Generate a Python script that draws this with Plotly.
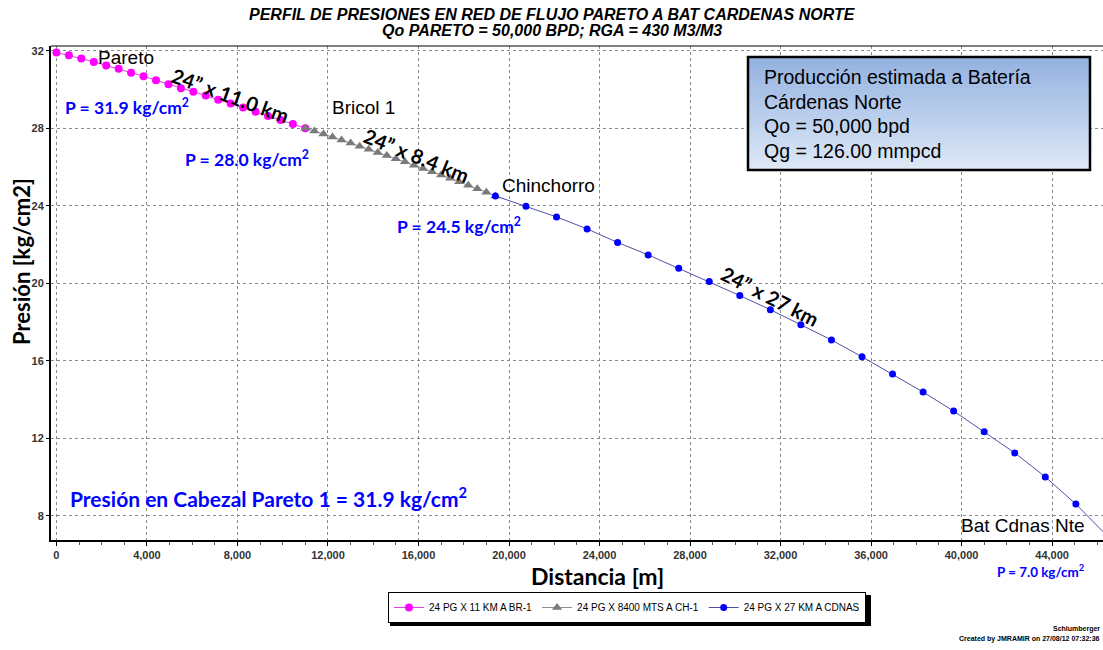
import plotly.graph_objects as go

# ---- pressure profile data (distance in m, pressure in kg/cm2) ----
dist_pareto = [0, 550, 1100, 1650, 2200, 2750, 3300, 3850, 4400, 4950, 5500,
               6050, 6600, 7150, 7700, 8250, 8800, 9350, 9900, 10450, 11000]
pres_pareto = [31.9, 31.76, 31.59, 31.42, 31.24, 31.06, 30.86, 30.68, 30.47, 30.26, 30.06,
               29.88, 29.68, 29.47, 29.27, 29.06, 28.85, 28.63, 28.42, 28.21, 28.0]

dist_bricol = [11000, 11400, 11800, 12200, 12600, 13000, 13400, 13800, 14200, 14600, 15000,
               15400, 15800, 16200, 16600, 17000, 17400, 17800, 18200, 18600, 19000, 19400]
pres_bricol = [28.0, 27.85, 27.70, 27.54, 27.39, 27.23, 27.07, 26.91, 26.75, 26.59, 26.42,
               26.26, 26.09, 25.92, 25.75, 25.58, 25.41, 25.23, 25.05, 24.87, 24.69, 24.5]

dist_chinch = [19400, 20750, 22100, 23450, 24800, 26150, 27500, 28850, 30200, 31550, 32900,
               34250, 35600, 36950, 38300, 39650, 41000, 42350, 43700, 45050, 46400]
pres_chinch = [24.5, 23.97, 23.42, 22.8, 22.1, 21.46, 20.77, 20.08, 19.36, 18.63, 17.86,
               17.07, 16.2, 15.31, 14.38, 13.4, 12.33, 11.24, 10.0, 8.6, 7.0]

series_names = ["24 PG X 11 KM A BR-1", "24 PG X 8400 MTS A CH-1", "24 PG X 27 KM A CDNAS"]

x_ticks = list(range(0, 44001, 4000))
y_ticks = [8, 12, 16, 20, 24, 28, 32]

# ---- plot-area geometry in pixels ----
L, R, T, B = 51, 1103, 46, 540


def px(x):
    return (x - L) / (R - L)


def py(y):
    return (B - y) / (B - T)


fig = go.Figure()
fig.add_trace(go.Scatter(
    x=dist_pareto, y=pres_pareto, mode="lines+markers", name=series_names[0],
    line=dict(color="#E040E0", width=1),
    marker=dict(symbol="circle", size=8, color="#FF00FF")))
fig.add_trace(go.Scatter(
    x=dist_bricol, y=pres_bricol, mode="lines+markers", name=series_names[1],
    line=dict(color="#909090", width=1),
    marker=dict(symbol="triangle-up", size=9, color="#7a7a7a")))
fig.add_trace(go.Scatter(
    x=dist_chinch, y=pres_chinch, mode="lines+markers", name=series_names[2],
    line=dict(color="#5050A8", width=1),
    marker=dict(symbol="circle", size=7, color="#0000FF")))

tick_font = dict(family="Liberation Sans, Arial", size=11, color="#333333", weight="bold")

fig.update_xaxes(
    range=[-240, 46250], tickvals=x_ticks, tickformat=",",
    showgrid=True, gridcolor="#8a8a8a", griddash="dot", gridwidth=1,
    showline=True, linecolor="black", linewidth=2,
    ticks="outside", ticklen=4, tickcolor="black", tickfont=tick_font,
    minor=dict(dtick=1000, tick0=0, ticks="outside", ticklen=3, tickcolor="#555",
               showgrid=False),
    zeroline=False)
fig.update_yaxes(
    range=[6.745, 32.24], tickvals=y_ticks,
    showgrid=True, gridcolor="#8a8a8a", griddash="dot", gridwidth=1,
    showline=True, linecolor="black", linewidth=2,
    ticks="outside", ticklen=3, tickcolor="black", tickfont=tick_font,
    zeroline=False)

shapes = []
# top frame line
shapes.append(dict(type="line", xref="paper", yref="paper", x0=0, x1=1,
                   y0=1, y1=1, line=dict(color="black", width=1)))

# info box with vertical gradient fill
bx0, bx1, by0, by1 = 748, 1090, 57, 170
top_rgb = (147, 177, 224)
bot_rgb = (222, 232, 247)
n_strips = 40
for i in range(n_strips):
    f = i / (n_strips - 1)
    c = tuple(round(top_rgb[k] + (bot_rgb[k] - top_rgb[k]) * f) for k in range(3))
    y0 = by0 + (by1 - by0) * i / n_strips
    y1 = by0 + (by1 - by0) * (i + 1) / n_strips
    shapes.append(dict(type="rect", xref="paper", yref="paper",
                       x0=px(bx0), x1=px(bx1), y0=py(y1 + 0.6), y1=py(y0),
                       fillcolor="rgb(%d,%d,%d)" % c, line=dict(width=0)))
shapes.append(dict(type="rect", xref="paper", yref="paper",
                   x0=px(bx0), x1=px(bx1), y0=py(by1), y1=py(by0),
                   line=dict(color="black", width=2.5)))

# drop shadow behind the legend box
sh_x0, sh_x1, sh_y0, sh_y1 = 390, 871, 595, 626
shapes.append(dict(type="rect", xref="paper", yref="paper",
                   x0=px(sh_x0), x1=px(sh_x1), y0=py(sh_y1), y1=py(sh_y0),
                   fillcolor="black", line=dict(width=0)))

annotations = []


def add_text(text, x, y, size, color="black", family="Liberation Sans, Arial",
             weight="normal", style="normal", angle=0, xanchor="center", align="center"):
    annotations.append(dict(
        text=text, x=px(x), y=py(y), xref="paper", yref="paper",
        xanchor=xanchor, yanchor="middle", showarrow=False, textangle=angle, align=align,
        font=dict(size=size, color=color, family=family, weight=weight, style=style)))


narrow = "Liberation Sans Narrow, Arial Narrow, Liberation Sans"
calibri_like = "Lato, Open Sans, sans-serif"
blue = "#0000FF"

# titles
add_text("PERFIL DE PRESIONES EN RED DE FLUJO PARETO A BAT CARDENAS NORTE", 552, 14, 16,
         family=narrow, weight="bold", style="italic")
add_text("Qo PARETO = 50,000 BPD; RGA = 430 M3/M3", 552, 31, 16,
         family=narrow, weight="bold", style="italic")

# axis titles
add_text("Presión [kg/cm2]", 21, 262, 22, family=calibri_like, weight="bold", angle=-90)
add_text("Distancia [m]", 597, 576, 23, family=calibri_like, weight="bold")

# station names
add_text("Pareto", 96, 57, 19, xanchor="left")
add_text("Bricol 1", 330, 108, 19, xanchor="left")
add_text("Chinchorro", 500, 185, 19, xanchor="left")
add_text("Bat Cdnas Nte", 1087, 525, 19, xanchor="right")

# pipe segment labels
add_text("24” x 11.0 km", 230, 95, 20, family=calibri_like, weight="bold", angle=20)
add_text("24” x 8.4 km", 416, 155, 20, family=calibri_like, weight="bold", angle=22)
add_text("24” x 27 km", 770, 296, 20, family=calibri_like, weight="bold", angle=27)

# pressure labels
add_text("P = 31.9 kg/cm<sup>2</sup>", 63, 106, 17.5, color=blue, family=calibri_like,
         weight="bold", xanchor="left")
add_text("P = 28.0 kg/cm<sup>2</sup>", 183, 158, 17.5, color=blue, family=calibri_like,
         weight="bold", xanchor="left")
add_text("P = 24.5 kg/cm<sup>2</sup>", 395, 225, 17.5, color=blue, family=calibri_like,
         weight="bold", xanchor="left")
add_text("P = 7.0 kg/cm<sup>2</sup>", 995, 571, 13.4, color=blue, family=calibri_like,
         weight="bold", xanchor="left")
add_text("Presión en Cabezal Pareto 1 = 31.9 kg/cm<sup>2</sup>", 68, 497, 21, color=blue,
         family=calibri_like, weight="bold", xanchor="left")

# info box text
box_lines = ["Producción estimada a Batería", "Cárdenas Norte",
             "Qo = 50,000 bpd", "Qg = 126.00 mmpcd"]
for i, line in enumerate(box_lines):
    add_text(line, 762, 77 + i * 24.7, 19.5, xanchor="left")

# footer
add_text("Schlumberger", 1102, 629, 7, weight="bold", xanchor="right")
add_text("Created by JMRAMIR on 27/08/12 07:32:36", 1102, 639, 7, weight="bold",
         xanchor="right")

fig.update_layout(
    width=1103, height=650,
    margin=dict(l=L, r=1103 - R, t=T, b=650 - B),
    paper_bgcolor="white", plot_bgcolor="white",
    showlegend=True,
    legend=dict(orientation="h", x=px(627), xanchor="center", y=py(592), yanchor="top",
                bgcolor="white", bordercolor="black", borderwidth=1,
                font=dict(family="Liberation Sans, Arial", size=10, color="black"),
                itemwidth=30, tracegroupgap=0),
    shapes=shapes, annotations=annotations,
)

fig.write_html("out.html")
